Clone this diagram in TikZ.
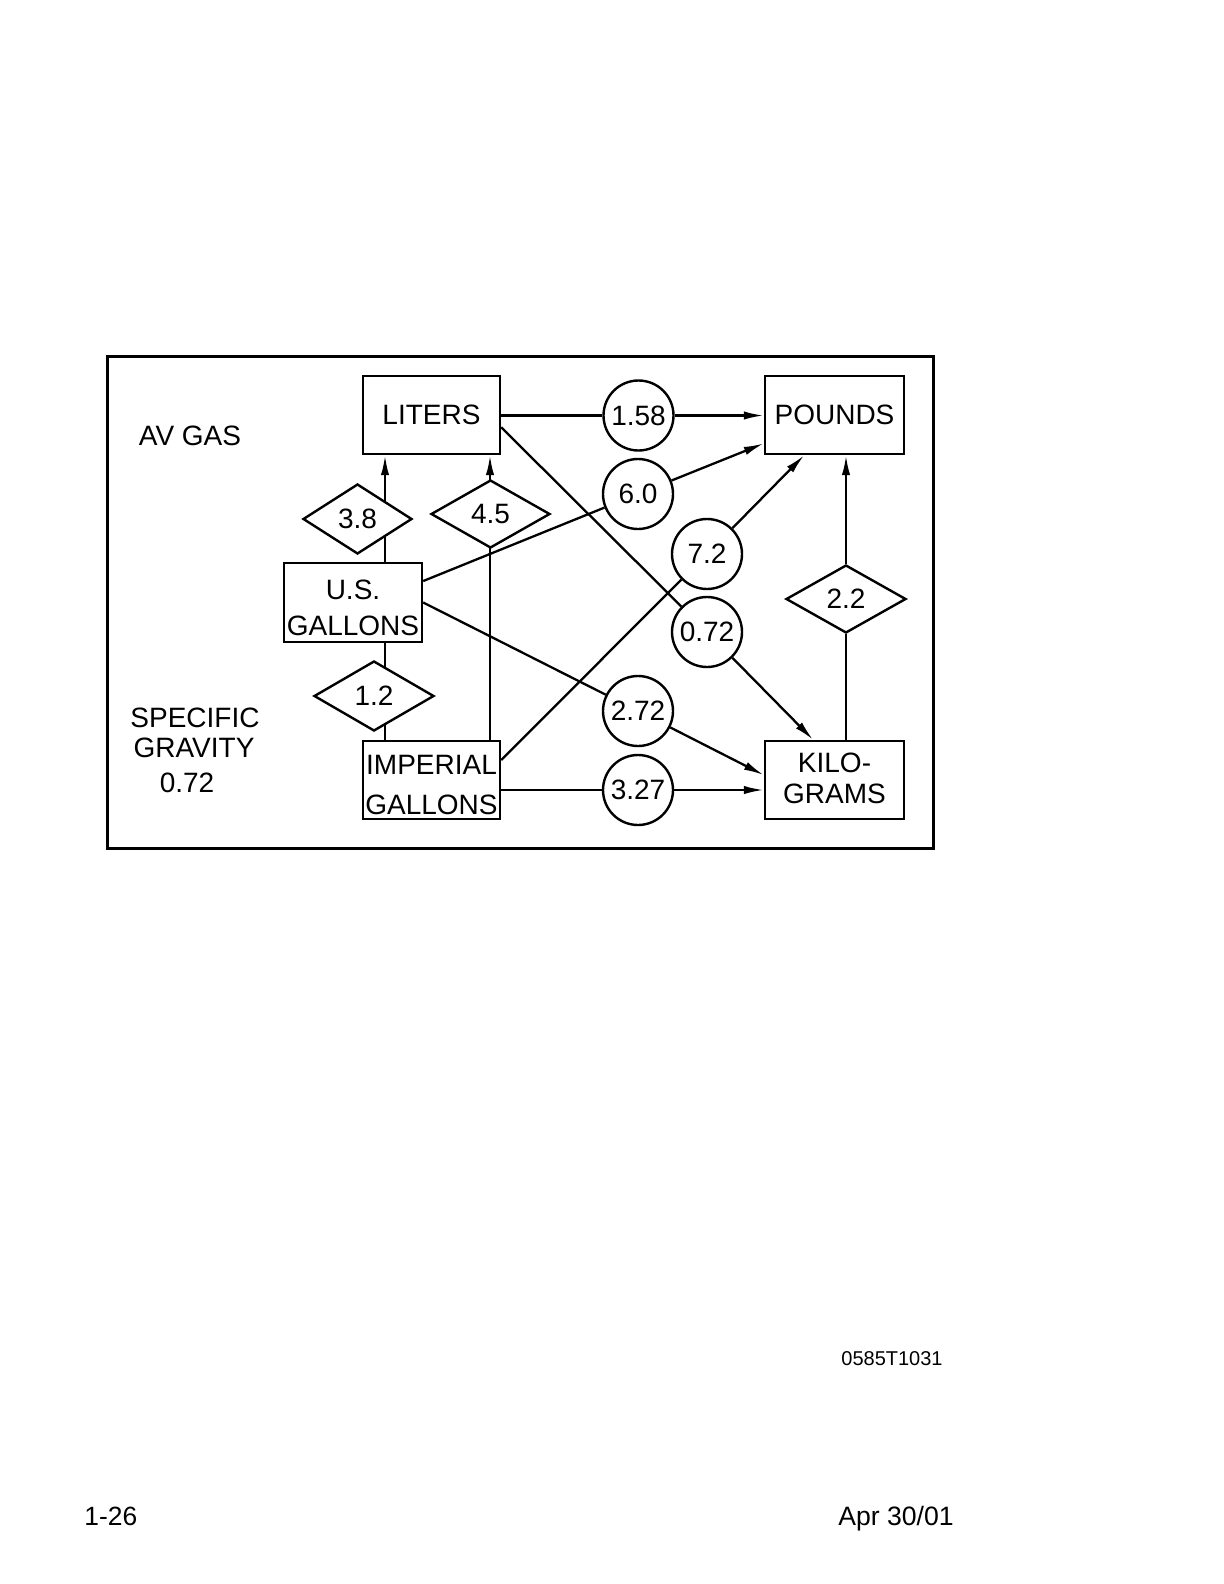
\documentclass[tikz,border=0pt]{standalone}
\usepackage{fontspec}
\setmainfont{Liberation Sans}
\usetikzlibrary{shapes.geometric,arrows.meta}
\pgfdeclarelayer{bg}
\pgfsetlayers{bg,main}
\begin{document}
\begin{tikzpicture}[x=0.5pt,y=-0.5pt,
  every node/.style={font=\fontsize{14pt}{17pt}\selectfont},
  box/.style={draw,line width=1.2pt,fill=white,minimum width=68.5pt,minimum height=39pt,inner sep=0pt,align=center},
  circ/.style={draw,circle,line width=1.2pt,fill=white,minimum size=35pt,inner sep=0pt},
  dia/.style={draw,diamond,line width=1.2pt,fill=white,inner sep=0pt},
  conn/.style={line width=1.15pt},
  arr/.style={conn,-{Latex[length=10pt,width=4.2pt]}},
  lbl/.style={inner sep=0pt}]
\useasboundingbox (0,0) rectangle (1224,1584);
\draw[line width=1.5pt] (107,356) rectangle (933,848);
% boxes
\node[box] (liters) at (431.5,415) {LITERS};
\node[box,minimum width=69.5pt] (pounds) at (834.5,415) {POUNDS};
\node[box,minimum width=69pt,minimum height=39.5pt,font=\fontsize{14pt}{18pt}\selectfont] (us) at (353,602.5) {\rule{0pt}{15.2pt}U.S.\\GALLONS};
\node[box,font=\fontsize{14pt}{20pt}\selectfont] (imp) at (431.5,780) {\rule{0pt}{14.7pt}IMPERIAL\\GALLONS};
\node[box,minimum width=69.5pt,font=\fontsize{14pt}{15.5pt}\selectfont] (kilo) at (834.5,780) {KILO-\\GRAMS\rule[-2pt]{0pt}{2pt}};
% circles
\node[circ] (c158) at (638.5,415.5) {1.58};
\node[circ] (c60) at (638,494) {6.0};
\node[circ] (c72) at (707,554) {7.2};
\node[circ] (c072) at (707,632) {0.72};
\node[circ] (c272) at (638,711) {2.72};
\node[circ] (c327) at (638,790) {3.27};
% diamonds
\node[dia,minimum width=54.5pt,minimum height=35pt] (d38) at (357.5,519) {3.8};
\node[dia,minimum width=59.5pt,minimum height=34pt] (d45) at (490.5,514) {4.5};
\node[dia,minimum width=60pt,minimum height=35pt] (d12) at (374,696) {1.2};
\node[dia,minimum width=60pt,minimum height=34pt] (d22) at (846,599) {2.2};
% helper x positions
\coordinate (xa) at (385,0);
\coordinate (xb) at (490,0);
% connectors
\begin{pgfonlayer}{bg}
\draw[arr] (us.north -| xa) -- (liters.south -| xa);
\draw[conn] (imp.north -| xa) -- (us.south -| xa);
\draw[arr] (imp.north -| xb) -- (liters.south -| xb);
\draw[conn] (c158 -| liters.east) -- (c158);
\draw[arr] (c158) -- (c158 -| pounds.west);
\draw[conn] (us.17) -- (c60);
\draw[arr] (c60) -- (pounds);
\draw[conn] (imp.16) -- (c72);
\draw[arr] (c72) -- (pounds.233);
\draw[conn] (liters.-10) -- (c072);
\draw[arr] (c072) -- (kilo.118);
\draw[conn] (us.east) -- (c272);
\draw[arr] (c272) -- (kilo.176);
\draw[conn] (c327 -| imp.east) -- (c327);
\draw[arr] (c327) -- (c327 -| kilo.west);
\draw[conn] (kilo.north -| d22) -- (d22.south);
\draw[arr] (d22.north) -- (pounds.south -| d22);
\end{pgfonlayer}
% free texts
\node[lbl] (avgas) at (190,436) {AV GAS};
\node[lbl] (spec) at (195,718) {SPECIFIC};
\node[lbl] (grav) at (194,748) {GRAVITY};
\node[lbl] (sg) at (187,783) {0.72};
\node[lbl,font=\fontsize{10pt}{12pt}\selectfont] (code) at (892,1359) {0585T1031};
\node[lbl,font=\fontsize{13.2pt}{16pt}\selectfont,anchor=base west] (page) at (84,1525) {1-26};
\node[lbl,font=\fontsize{13.3pt}{16pt}\selectfont,anchor=base west] (date) at (838,1525) {Apr 30/01};
\end{tikzpicture}
\end{document}
